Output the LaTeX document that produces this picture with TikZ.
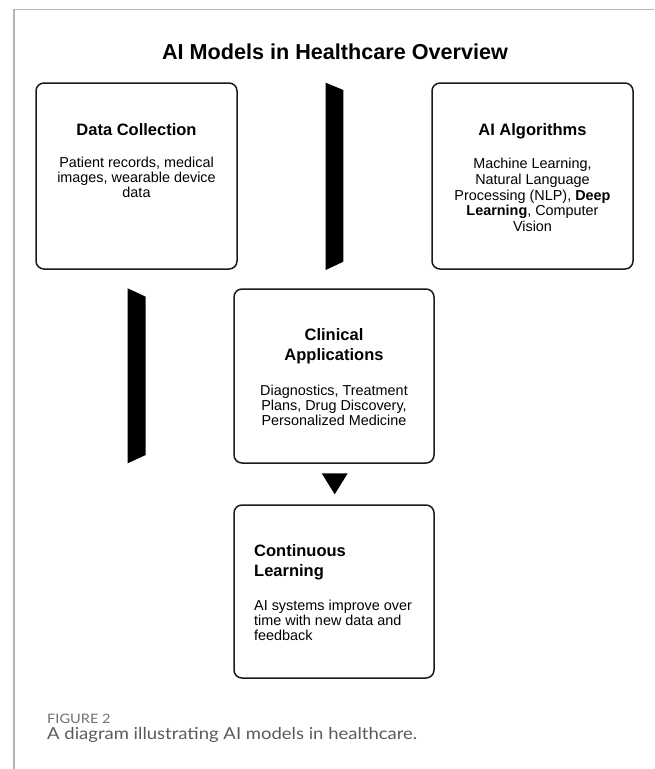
\documentclass[tikz,border=0pt]{standalone}
\usepackage{fontspec}
\setmainfont{Liberation Sans}
\newfontfamily\capfont[FakeStretch=1.12]{Lato}
\definecolor{framegray}{HTML}{B3B3B3}
\definecolor{boxline}{HTML}{1A1A1A}
\definecolor{capgray}{HTML}{5A5A5A}
\definecolor{figgray}{HTML}{707070}
\tikzset{
  x=1pt, y=-1pt,
  boxstyle/.style={draw=boxline, line width=1.5pt, rounded corners=8pt},
  maintitle/.style={font=\bfseries\fontsize{21.6}{26}\selectfont, inner sep=0pt, anchor=base},
  boxtitle/.style={font=\bfseries\fontsize{16.5}{19.8}\selectfont, inner sep=0pt, anchor=base, align=center},
  boxbody/.style={font=\fontsize{14.4}{15}\selectfont, inner sep=0pt, anchor=base, align=center},
  blackshape/.style={fill=black, draw=none},
}
\begin{document}
\begin{tikzpicture}
\useasboundingbox (0,0) rectangle (654,769);
% frame
\draw[framegray, line width=1.2pt] (14,769) -- (14,9.5) -- (654,9.5);
% title
\node[maintitle] (title) at (335,59.5) {AI Models in Healthcare Overview};
% boxes
\draw[boxstyle] (36,83) rectangle (237,269);
\coordinate (dcbox) at (136.5,176);
\draw[boxstyle] (432,83) rectangle (633,269);
\coordinate (aibox) at (532.5,176);
\draw[boxstyle] (234,289) rectangle (434,463);
\coordinate (cabox) at (334,376);
\draw[boxstyle] (234,505) rectangle (434,678);
\coordinate (clbox) at (334,591.5);
% Data Collection (base anchor = baseline of last line)
\node[boxtitle] (dct) at (136.5,135) {Data Collection};
\node[boxbody] (dcb) at (136.5,197.3) {Patient records, medical\\images, wearable device\\data};
% AI Algorithms
\node[boxtitle] (ait) at (532.5,135.5) {AI Algorithms};
\node[boxbody, font=\fontsize{14.4}{15.8}\selectfont] (aib) at (532.5,231.7) {Machine Learning,\\Natural Language\\Processing (NLP), \textbf{Deep}\\\textbf{Learning}, Computer\\Vision};
% Clinical Applications
\node[boxtitle] (cat) at (334,360.5) {Clinical\\Applications};
\node[boxbody] (cab) at (334,425) {Diagnostics, Treatment\\Plans, Drug Discovery,\\Personalized Medicine};
% Continuous Learning
\node[boxtitle, anchor=base west, align=left] (clt) at (254,576.6) {Continuous\\Learning};
\node[boxbody, anchor=base west, align=left] (clb) at (254,640.5) {AI systems improve over\\time with new data and\\feedback};
% black arrow shapes
\fill[blackshape] (325.7,82.7) -- (343.3,90) -- (343.3,261.7) -- (325.7,270) -- cycle;
\fill[blackshape] (127.7,288.3) -- (145.7,296.7) -- (145.7,455) -- (127.7,463.3) -- cycle;
\fill[blackshape] (321.7,473.3) -- (347.7,473.3) -- (334.7,494.3) -- cycle;
% caption
\node[font=\capfont\fontsize{13}{15}\selectfont, text=figgray, inner sep=0pt, anchor=base west] (fig) at (47,723) {FIGURE 2};
\node[font=\capfont\fontsize{16.5}{19}\selectfont, text=capgray, inner sep=0pt, anchor=base west] (cap) at (47,739.5) {A diagram illustrating AI models in healthcare.};
\end{tikzpicture}
\end{document}
